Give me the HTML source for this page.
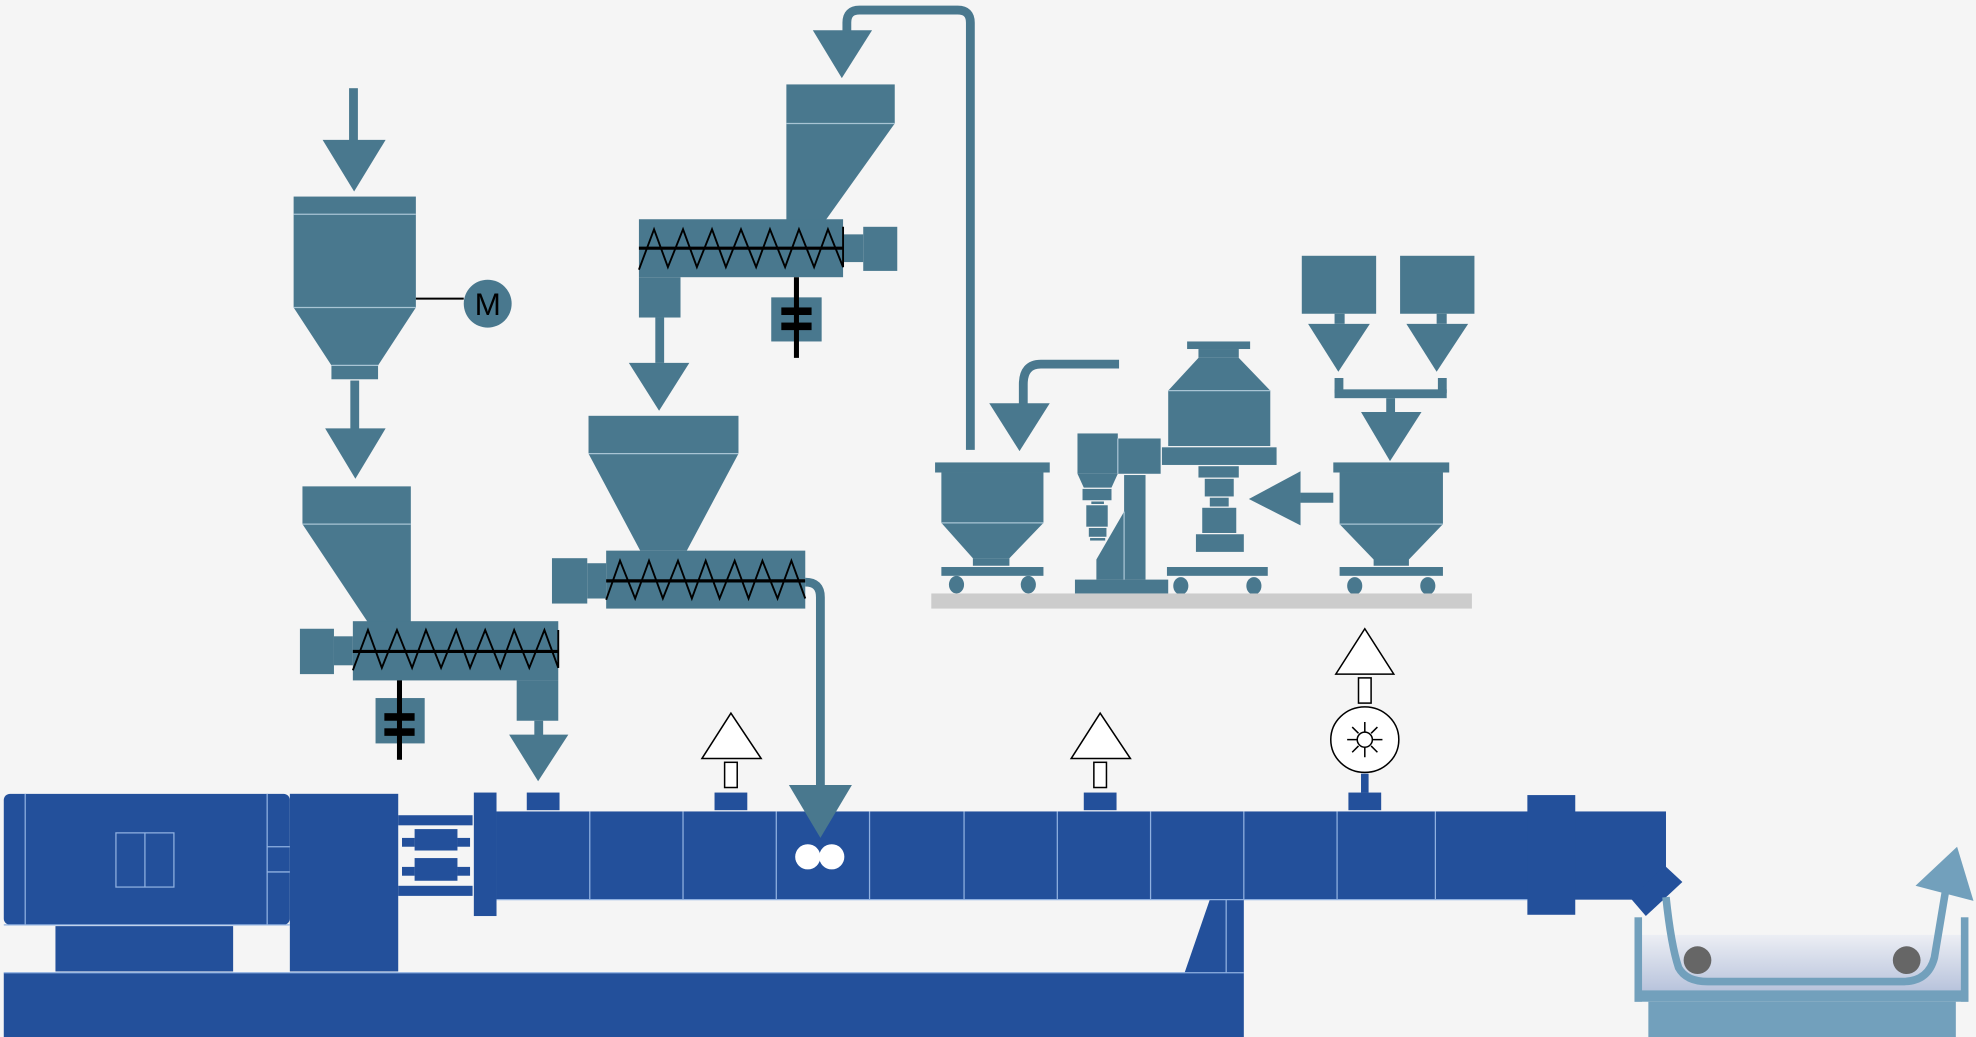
<!DOCTYPE html>
<html><head><meta charset="utf-8"><style>html,body{margin:0;padding:0;background:#f5f5f5;}svg{display:block}</style></head>
<body>
<svg width="1976" height="1037" viewBox="0 0 1568 823" preserveAspectRatio="none" xmlns="http://www.w3.org/2000/svg">
<defs><linearGradient id="w" x1="0" y1="0" x2="0" y2="1"><stop offset="0" stop-color="#eceef4"/><stop offset="1" stop-color="#b4c0da"/></linearGradient></defs>
<rect width="1568" height="823" fill="#f5f5f5"/>
<g fill="#49788e">
<rect x="277" y="70" width="7" height="42"/><polygon points="256,111 306,111 281,152"/>
<rect x="233" y="156" width="97" height="88"/><polygon points="233,244 330,244 300,290 263,290"/><rect x="263" y="290" width="37" height="11"/>
<ellipse cx="387" cy="241" rx="19" ry="19"/>
<rect x="278" y="302" width="7" height="40"/><polygon points="258,340 306,340 282,380"/>
<rect x="240" y="386" width="86" height="30"/><polygon points="240,416 326,416 326,494 292,494"/>
<rect x="280" y="493" width="163" height="47"/><rect x="410" y="540" width="33" height="32"/>
<rect x="265" y="505" width="15" height="23"/><rect x="238" y="499" width="27" height="36"/>
<rect x="298" y="554" width="39" height="36"/>
<rect x="424" y="572" width="7" height="12"/><polygon points="404,583 451,583 427,620"/>
<polygon points="645,24 692,24 668,62"/>
<rect x="624" y="67" width="86" height="31"/><polygon points="624,98 710,98 655,175 624,175"/>
<rect x="507" y="174" width="162" height="46"/><rect x="507" y="220" width="33" height="32"/>
<rect x="669" y="186" width="16" height="22"/><rect x="685" y="180" width="27" height="35"/>
<rect x="612" y="236" width="40" height="35"/>
<rect x="520" y="252" width="7" height="36"/><polygon points="499,288 547,288 523,326"/>
<rect x="467" y="330" width="119" height="30"/><polygon points="467,360 586,360 545,437 508,437"/>
<rect x="481" y="437" width="158" height="46"/><rect x="466" y="447" width="15" height="28"/><rect x="438" y="443" width="28" height="36"/>
<rect x="742" y="367" width="91" height="8"/><rect x="747" y="375" width="81" height="40"/><polygon points="747,415 828,415 801,443 772,443"/><rect x="772" y="443" width="29" height="6"/><rect x="747" y="450" width="81" height="7"/>
<ellipse cx="759" cy="464" rx="6" ry="7"/><ellipse cx="816" cy="464" rx="6" ry="7"/>
<polygon points="785,320 833,320 809,358"/>
<rect x="855" y="344" width="32" height="32"/><rect x="887" y="348" width="34" height="28"/>
<polygon points="855,376 887,376 882,387 860,387"/><rect x="859" y="388" width="23" height="9"/><rect x="866" y="398" width="10" height="2"/><rect x="862" y="401" width="17" height="17"/><rect x="864" y="419" width="14" height="7"/><rect x="865" y="427" width="12" height="2"/>
<rect x="892" y="377" width="17" height="83"/><polygon points="892,406 892,460 870,460 870,444"/><rect x="853" y="460" width="74" height="11"/>
<rect x="942" y="271" width="50" height="6"/><rect x="951" y="277" width="32" height="7"/><polygon points="951,284 983,284 1008,310 927,310"/><rect x="927" y="310" width="81" height="44"/><rect x="922" y="355" width="91" height="14"/>
<rect x="951" y="370" width="32" height="9"/><rect x="956" y="380" width="23" height="14"/><rect x="960" y="395" width="15" height="7"/><rect x="954" y="403" width="27" height="20"/><rect x="949" y="424" width="38" height="14"/>
<rect x="926" y="450" width="80" height="7"/><ellipse cx="937" cy="465" rx="6" ry="7"/><ellipse cx="995" cy="465" rx="6" ry="7"/>
<polygon points="991,396 1032,374 1032,417"/><rect x="1032" y="391" width="26" height="8"/>
<rect x="1058" y="367" width="92" height="8"/><rect x="1063" y="375" width="82" height="41"/><polygon points="1063,416 1145,416 1118,444 1090,444"/><rect x="1090" y="444" width="28" height="5"/><rect x="1063" y="450" width="82" height="7"/>
<ellipse cx="1075" cy="465" rx="6" ry="7"/><ellipse cx="1133" cy="465" rx="6" ry="7"/>
<rect x="1033" y="203" width="59" height="46"/><rect x="1111" y="203" width="59" height="46"/>
<rect x="1059" y="249" width="8" height="8"/><rect x="1140" y="249" width="8" height="8"/>
<polygon points="1038,257 1087,257 1062,295"/><polygon points="1116,257 1165,257 1140,295"/>
<rect x="1059" y="300" width="7" height="12"/><rect x="1141" y="300" width="7" height="12"/><rect x="1059" y="309" width="89" height="7"/><rect x="1100" y="316" width="7" height="11"/>
<polygon points="1080,327 1128,327 1103,366"/>
</g>
<g stroke="#a8c4d4" stroke-width="1" fill="none">
<line x1="233" y1="170" x2="330" y2="170"/><line x1="233" y1="244" x2="330" y2="244"/><line x1="263" y1="290" x2="300" y2="290"/>
<line x1="240" y1="416" x2="326" y2="416"/><line x1="624" y1="98" x2="710" y2="98"/><line x1="467" y1="360" x2="586" y2="360"/>
<line x1="747" y1="415" x2="828" y2="415"/><line x1="1063" y1="416" x2="1145" y2="416"/><line x1="927" y1="310" x2="1008" y2="310"/><line x1="887" y1="348" x2="887" y2="376"/><line x1="892" y1="406" x2="892" y2="460"/>
</g>
<g fill="none" stroke="#49788e" stroke-width="7">
<path d="M770 357 V18 Q770 8 760 8 H682 Q672 8 672 18 V26"/>
<path d="M888 289 H826 Q812 289 812 305 V322"/>
</g>
<rect x="739" y="471" width="429" height="12" fill="#cccccc"/>
<g stroke="#000" fill="none">
<line x1="330" y1="237" x2="368" y2="237" stroke-width="1.5"/>
<polyline stroke-width="1.5" points="280,532 292,500 303,530 315,500 327,530 338,500 350,530 362,500 373,530 385,500 397,530 408,500 420,530 432,500 443,530 443,500"/>
<line x1="280" y1="517" x2="443" y2="517" stroke-width="2.5"/>
<polyline stroke-width="1.5" points="507,214 519,182 530,212 542,182 553,212 565,182 576,212 588,182 600,212 611,182 623,212 634,182 646,212 657,182 669,212 669,180"/>
<line x1="507" y1="197" x2="669" y2="197" stroke-width="2.5"/>
<polyline stroke-width="1.5" points="481,476 492,445 504,475 515,445 526,475 538,445 549,475 560,445 571,475 583,445 594,475 605,445 617,475 628,445 639,475"/>
<line x1="481" y1="461" x2="639" y2="461" stroke-width="2.5"/>
<line x1="317" y1="540" x2="317" y2="603" stroke-width="4"/><line x1="632" y1="220" x2="632" y2="284" stroke-width="4"/>
</g>
<g fill="#000"><rect x="305" y="566" width="24" height="6"/><rect x="305" y="578" width="24" height="6"/><rect x="620" y="244" width="24" height="6"/><rect x="620" y="256" width="24" height="6"/></g>
<text x="387" y="250" font-family="Liberation Sans, sans-serif" font-size="25" text-anchor="middle" fill="#000">M</text>
<g fill="#23509b">
<rect x="3" y="772" width="984" height="51"/>
<rect x="3" y="630" width="227" height="104" rx="5"/>
<rect x="44" y="735" width="141" height="36"/>
<rect x="230" y="630" width="86" height="141"/>
<rect x="316" y="647" width="59" height="8"/><rect x="316" y="703" width="59" height="8"/>
<rect x="329" y="658" width="34" height="17"/><rect x="329" y="681" width="34" height="18"/>
<rect x="319" y="665" width="10" height="7"/><rect x="363" y="665" width="10" height="7"/><rect x="319" y="688" width="10" height="7"/><rect x="363" y="688" width="10" height="7"/>
<rect x="376" y="629" width="18" height="98"/>
<rect x="394" y="644" width="928" height="70"/>
<rect x="1212" y="631" width="38" height="95"/>
<polygon points="1294,713 1321,687 1335,700 1306,727"/>
<polygon points="940,772 960,714 973,714 973,772"/><rect x="973" y="714" width="14" height="58"/>
<rect x="418" y="629" width="26" height="14"/><rect x="567" y="629" width="26" height="14"/><rect x="860" y="629" width="26" height="14"/><rect x="1070" y="629" width="26" height="14"/>
<rect x="1080" y="614" width="6" height="15"/>
</g>
<g stroke="#8fb0e0" stroke-width="1" fill="none">
<line x1="20" y1="630" x2="20" y2="734"/><line x1="212" y1="630" x2="212" y2="734"/><line x1="212" y1="672" x2="230" y2="672"/><line x1="212" y1="692" x2="230" y2="692"/>
<rect x="92" y="661" width="46" height="43"/><line x1="115" y1="661" x2="115" y2="704"/>
<line x1="3" y1="772" x2="987" y2="772"/><line x1="3" y1="734" x2="230" y2="734"/>
<line x1="468" y1="644" x2="468" y2="714"/><line x1="542" y1="644" x2="542" y2="714"/><line x1="616" y1="644" x2="616" y2="714"/><line x1="690" y1="644" x2="690" y2="714"/><line x1="765" y1="644" x2="765" y2="714"/><line x1="839" y1="644" x2="839" y2="714"/><line x1="913" y1="644" x2="913" y2="714"/><line x1="987" y1="644" x2="987" y2="714"/><line x1="1061" y1="644" x2="1061" y2="714"/><line x1="1139" y1="644" x2="1139" y2="714"/>
<line x1="394" y1="714" x2="1212" y2="714"/><line x1="973" y1="714" x2="973" y2="772"/>
</g>
<path d="M639 462 Q651 462 651 474 V625" fill="none" stroke="#49788e" stroke-width="7"/>
<polygon points="626,623 676,623 651,665" fill="#49788e"/>
<ellipse cx="641" cy="680" rx="10" ry="10" fill="#fff"/><ellipse cx="660" cy="680" rx="10" ry="10" fill="#fff"/>
<g fill="#fff" stroke="#000" stroke-width="1.2">
<polygon points="557,602 604,602 580,566"/><rect x="575" y="605" width="10" height="20"/>
<polygon points="850,602 897,602 873,566"/><rect x="868" y="605" width="10" height="20"/>
<polygon points="1060,535 1106,535 1083,499"/><rect x="1078" y="538" width="10" height="20"/>
<ellipse cx="1083" cy="587" rx="27" ry="26"/>
<circle cx="1083" cy="587" r="6"/>
<path d="M1083 573 V581 M1083 593 V601 M1069 587 H1077 M1089 587 H1097 M1073 577 L1078 582 M1088 592 L1093 597 M1093 577 L1088 582 M1078 592 L1073 597" fill="none"/>
</g>
<rect x="1302" y="742" width="260" height="48" fill="url(#w)"/>
<g fill="#72a0bc">
<rect x="1297" y="728" width="6" height="67"/><rect x="1556" y="728" width="6" height="67"/><rect x="1297" y="786" width="265" height="9"/><rect x="1308" y="795" width="244" height="28"/>
<polygon points="1520,703 1553,672 1566,715"/>
</g>
<path d="M1322 712 Q1326 750 1332 768 Q1338 779 1355 779 H1510 Q1530 779 1535 760 Q1540 730 1545 700" fill="none" stroke="#72a0bc" stroke-width="6"/>
<ellipse cx="1347" cy="762" rx="11" ry="11" fill="#666"/><ellipse cx="1513" cy="762" rx="11" ry="11" fill="#666"/>
</svg>
</body></html>
